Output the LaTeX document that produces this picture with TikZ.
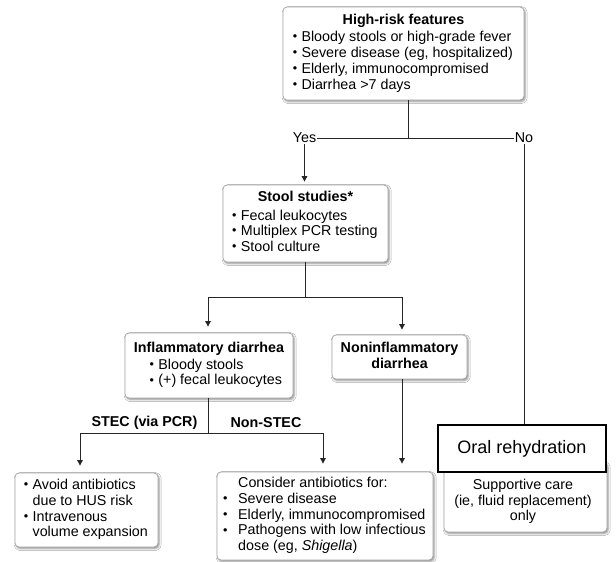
\documentclass[tikz,border=0pt]{standalone}
\usepackage{fontspec}
\setmainfont{Liberation Sans}
\usetikzlibrary{arrows.meta,shadows.blur}
% text sizes
\newcommand\txtsize{\fontsize{14.3}{15.8}\selectfont}
% small round bullet
\newcommand\dotmark{\raisebox{0.9pt}{\fontsize{12.5}{12.5}\selectfont\textbullet}}
% bullet items: short and wide indent, plus hanging continuation lines
\newcommand\bul[1]{\makebox[7.5pt][l]{\hspace*{-1.2pt}\dotmark}#1}
\newcommand\hang[1]{\hspace*{7.5pt}#1}
\newcommand\bulw[1]{\makebox[14pt][l]{\hspace*{-1.2pt}\dotmark}#1}
\newcommand\hangw[1]{\hspace*{14pt}#1}
\begin{document}
\begin{tikzpicture}[x=1pt,y=-1pt,
  font=\txtsize,
  box/.style={draw=black!35, line width=0.8pt, rounded corners=4pt, fill=white,
    inner sep=0pt,
    blur shadow={shadow xshift=1.2pt, shadow yshift=-1.6pt,
      shadow blur radius=2pt, shadow opacity=45}},
  link/.style={draw=black!85, line width=0.9pt},
  arr/.style={link, -{Triangle[length=5.5pt,width=5.5pt]}},
  lbl/.style={inner sep=1pt, font=\txtsize},
  blbl/.style={inner sep=1pt, font=\txtsize\bfseries},
]
\fill[white] (0,0) rectangle (616,562);

% ---- boxes ----
\node[box, minimum width=241pt, minimum height=93pt] (hr) at (403.5,53.5) {%
  \begin{tabular}{@{}l@{}}
  \multicolumn{1}{@{}c@{}}{\bfseries High-risk features}\\[1.5pt]
  \bul{Bloody stools or high-grade fever}\\
  \bul{Severe disease (eg, hospitalized)}\\
  \bul{Elderly, immunocompromised}\\
  \bul{Diarrhea >7 days}
  \end{tabular}};

\node[box, minimum width=165pt, minimum height=77pt] (stool) at (305.5,223.5) {%
  \begin{tabular}{@{}l@{}}
  \multicolumn{1}{@{}c@{}}{\bfseries Stool studies*}\\[2.5pt]
  \bul{Fecal leukocytes}\\
  \bul{Multiplex PCR testing}\\
  \bul{Stool culture}
  \end{tabular}};

\node[box, minimum width=168pt, minimum height=65pt] (inflam) at (209,365.5) {%
  \begin{tabular}{@{}l@{}}
  \multicolumn{1}{@{}c@{}}{\bfseries Inflammatory diarrhea}\\[1pt]
  \hspace*{17pt}\bul{Bloody stools}\\
  \hspace*{17pt}\bul{(+) fecal leukocytes}
  \end{tabular}};

\node[box, minimum width=135pt, minimum height=44pt] (noninf) at (399.5,357) {%
  \begin{tabular}{@{}c@{}}
  \bfseries Noninflammatory\\
  \bfseries diarrhea
  \end{tabular}};

\node[box, minimum width=143pt, minimum height=74pt] (avoid) at (86.5,510) {%
  \begin{tabular}{@{}l@{}}
  \bul{Avoid antibiotics}\\
  \hang{due to HUS risk}\\
  \bul{Intravenous}\\
  \hang{volume expansion}
  \end{tabular}};

\node[box, minimum width=216pt, minimum height=88pt] (consider) at (325,516) {%
  \begin{tabular}{@{}l@{}}
  \hangw{Consider antibiotics for:}\\
  \bulw{Severe disease}\\
  \bulw{Elderly, immunocompromised}\\
  \bulw{Pathogens with low infectious}\\
  \hangw{dose (eg, \textit{Shigella})}
  \end{tabular}};

\node[box, minimum width=163pt, minimum height=70pt] (support) at (525.5,497) {};
\node[inner sep=0pt] (supporttext) at (523,502) {%
  \begin{tabular}{@{}c@{}}
  Supportive care\\
  (ie, fluid replacement)\\
  only
  \end{tabular}};

\node[draw=black, line width=1.1pt, fill=white, minimum width=168pt,
  minimum height=47pt, font=\fontsize{18}{20}\selectfont] (oral) at (522,448.5)
  {Oral rehydration};

% ---- branch labels ----
\node[lbl] (yes) at (304.5,138) {Yes};
\node[lbl] (no) at (524,138) {No};
\node[blbl] (stec) at (144.5,423) {STEC (via PCR)};
\node[blbl] (nonstec) at (266,423) {Non-STEC};

% ---- junction points ----
\coordinate (hrj) at (408,138);
\coordinate (sj) at (305.5,297);
\coordinate (sl) at (208,297);
\coordinate (sr) at (402,297);
\coordinate (ij) at (208,433);
\coordinate (il) at (80,433);
\coordinate (ir) at (323,433);

% ---- connectors ----
\draw[link] (hr.south -| hrj) -- (hrj);
\draw[link] (yes.east) -- (no.west);
\draw[arr, shorten >=3pt] (yes.south) -- (yes.south |- stool.north);
\draw[link] (no.south) -- (no.south |- oral.north);

\draw[link] (stool.south) -- (sj);
\draw[link] (sl) -- (sr);
\draw[arr, shorten >=6pt] (sl) -- (sl |- inflam.north);
\draw[arr, shorten >=5pt] (sr) -- (sr |- noninf.north);

\draw[link] (inflam.south -| ij) -- (ij);
\draw[link] (il) -- (ir);
\draw[arr, shorten >=7pt] (il) -- (il |- avoid.north);
\draw[arr, shorten >=8pt] (ir) -- (ir |- consider.north);
\draw[arr, shorten >=8pt] (noninf.south -| sr) -- (sr |- consider.north);
\end{tikzpicture}
\end{document}
